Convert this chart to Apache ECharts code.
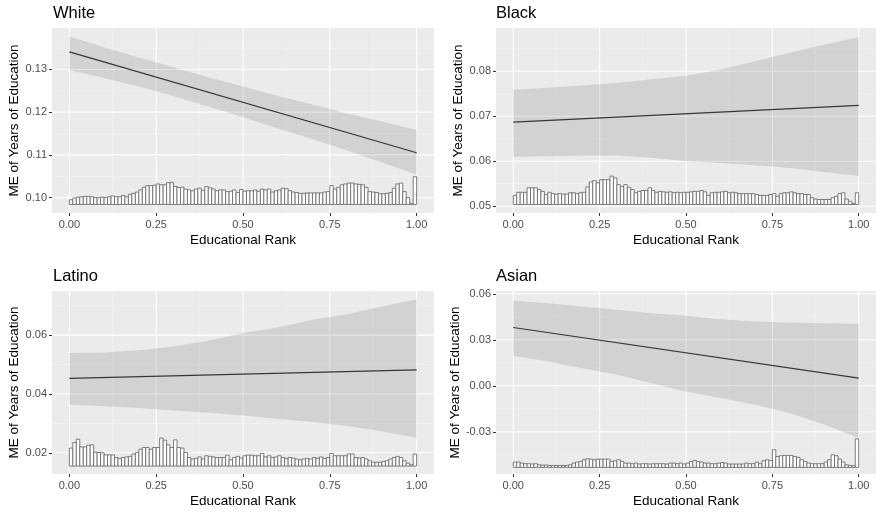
<!DOCTYPE html>
<html><head><meta charset="utf-8">
<script src="https://cdn.jsdelivr.net/npm/echarts@6.0.0/dist/echarts.min.js"></script>
<style>html,body{margin:0;padding:0;background:#fff}#c{width:876px;height:512px}</style>
</head><body><div id="c"></div>
<script>
// ---------- data ----------
const panelTitles = ['White', 'Black', 'Latino', 'Asian'];
const xTitle = 'Educational Rank';
const yTitle = 'ME of Years of Education';
const rankTicks = [0, 0.25, 0.5, 0.75, 1];
const rankMinor = [0.125, 0.375, 0.625, 0.875];
const rankRange = [-0.05, 1.05];
const ribbonX = [0, 0.1, 0.2, 0.3, 0.4, 0.5, 0.6, 0.7, 0.8, 0.9, 1];
const lineX = [0, 1];
const binWidth = 0.01;

// White
const whiteLine = [0.1341, 0.1105];
const whiteUpper = [0.1377, 0.1352, 0.1328, 0.1305, 0.1282, 0.1260, 0.1238, 0.1218, 0.1197, 0.1178, 0.1158];
const whiteLower = [0.1298, 0.1280, 0.1260, 0.1238, 0.1213, 0.1188, 0.1162, 0.1137, 0.1110, 0.1082, 0.1054];
const whiteHistBase = 0.0984;
const whiteHist = [
 0.0995,0.0999,0.1001,0.1002,0.1003,0.1003,0.1002,0.1000,0.1000,0.1001,
 0.1000,0.1002,0.1004,0.1002,0.1002,0.1005,0.1002,0.1008,0.1010,0.1013,
 0.1018,0.1024,0.1028,0.1028,0.1029,0.1032,0.1030,0.1030,0.1035,0.1036,
 0.1026,0.1024,0.1024,0.1020,0.1018,0.1016,0.1020,0.1022,0.1017,0.1026,
 0.1023,0.1020,0.1016,0.1018,0.1018,0.1014,0.1015,0.1018,0.1012,0.1019,
 0.1015,0.1016,0.1016,0.1018,0.1015,0.1020,0.1018,0.1020,0.1013,0.1016,
 0.1018,0.1022,0.1021,0.1016,0.1013,0.1012,0.1010,0.1010,0.1011,0.1011,
 0.1011,0.1011,0.1011,0.1013,0.1014,0.1028,0.1020,0.1024,0.1030,0.1032,
 0.1034,0.1034,0.1032,0.1031,0.1030,0.1024,0.1014,0.1013,0.1012,0.1009,
 0.1009,0.1010,0.1012,0.1022,0.1032,0.1034,0.1014,0.1000,0.0987,0.1049];
const whiteYTicks = [0.10, 0.11, 0.12, 0.13];
const whiteYMinor = [0.105, 0.115, 0.125, 0.135];
const whiteYRange = [0.0964, 0.1397];

// Black
const blackLine = [0.0687, 0.0724];
const blackUpper = [0.0759, 0.0763, 0.0768, 0.0774, 0.0782, 0.0790, 0.0804, 0.0822, 0.0841, 0.0859, 0.0876];
const blackLower = [0.0610, 0.0611, 0.0613, 0.0613, 0.0608, 0.0600, 0.0596, 0.0591, 0.0585, 0.0576, 0.0567];
const blackHistBase = 0.0504;
const blackHist = [
 0.0524,0.0531,0.0531,0.0531,0.0541,0.0541,0.0541,0.0537,0.0533,0.0526,
 0.0531,0.0528,0.0527,0.0528,0.0527,0.0527,0.0530,0.0530,0.0528,0.0530,
 0.0531,0.0543,0.0554,0.0557,0.0552,0.0559,0.0559,0.0559,0.0567,0.0563,
 0.0548,0.0544,0.0548,0.0542,0.0537,0.0530,0.0533,0.0535,0.0535,0.0541,
 0.0535,0.0531,0.0533,0.0532,0.0531,0.0532,0.0530,0.0531,0.0530,0.0531,
 0.0531,0.0532,0.0533,0.0533,0.0535,0.0532,0.0524,0.0530,0.0531,0.0531,
 0.0532,0.0533,0.0530,0.0531,0.0530,0.0528,0.0528,0.0528,0.0528,0.0528,
 0.0526,0.0524,0.0524,0.0524,0.0526,0.0528,0.0522,0.0528,0.0530,0.0530,
 0.0532,0.0530,0.0528,0.0528,0.0526,0.0526,0.0519,0.0516,0.0515,0.0515,
 0.0515,0.0515,0.0519,0.0522,0.0528,0.0530,0.0516,0.0511,0.0506,0.0530];
const blackYTicks = [0.05, 0.06, 0.07, 0.08];
const blackYMinor = [0.055, 0.065, 0.075, 0.085];
const blackYRange = [0.0485, 0.0896];

// Latino
const latinoLine = [0.0453, 0.0482];
const latinoUpper = [0.0539, 0.0541, 0.0549, 0.0561, 0.0581, 0.0607, 0.0626, 0.0652, 0.0671, 0.0697, 0.0722];
const latinoLower = [0.0363, 0.0358, 0.0352, 0.0344, 0.0336, 0.0327, 0.0316, 0.0305, 0.0291, 0.0273, 0.0251];
const latinoHistBase = 0.0155;
const latinoHist = [
 0.0216,0.0235,0.0246,0.0220,0.0220,0.0226,0.0227,0.0202,0.0201,0.0200,
 0.0193,0.0193,0.0193,0.0184,0.0181,0.0184,0.0186,0.0188,0.0196,0.0201,
 0.0212,0.0218,0.0218,0.0212,0.0218,0.0218,0.0250,0.0243,0.0227,0.0218,
 0.0244,0.0218,0.0216,0.0201,0.0184,0.0179,0.0181,0.0186,0.0179,0.0190,
 0.0188,0.0186,0.0184,0.0184,0.0184,0.0192,0.0176,0.0184,0.0188,0.0182,
 0.0190,0.0192,0.0192,0.0190,0.0190,0.0198,0.0186,0.0190,0.0184,0.0186,
 0.0190,0.0184,0.0181,0.0184,0.0182,0.0179,0.0176,0.0179,0.0181,0.0179,
 0.0184,0.0181,0.0186,0.0181,0.0184,0.0198,0.0190,0.0190,0.0190,0.0190,
 0.0196,0.0196,0.0184,0.0182,0.0184,0.0179,0.0173,0.0168,0.0168,0.0168,
 0.0171,0.0173,0.0179,0.0184,0.0188,0.0184,0.0173,0.0165,0.0159,0.0196];
const latinoYTicks = [0.02, 0.04, 0.06];
const latinoYMinor = [0.03, 0.05, 0.07];
const latinoYRange = [0.0128, 0.0750];

// Asian
const asianLine = [0.0380, 0.0050];
const asianUpper = [0.0556, 0.0538, 0.0517, 0.0495, 0.0473, 0.0456, 0.0434, 0.0419, 0.0413, 0.0408, 0.0404];
const asianLower = [0.0196, 0.0159, 0.0115, 0.0072, 0.0017, -0.0037, -0.0080, -0.0123, -0.0178, -0.0253, -0.0341];
const asianHistBase = -0.0532;
const asianHist = [
 -0.0497,-0.0497,-0.0504,-0.0508,-0.0508,-0.0510,-0.0508,-0.0515,-0.0517,-0.0517,
 -0.0519,-0.0519,-0.0519,-0.0519,-0.0519,-0.0519,-0.0515,-0.0504,-0.0497,-0.0493,
 -0.0482,-0.0476,-0.0478,-0.0482,-0.0478,-0.0478,-0.0478,-0.0478,-0.0493,-0.0489,
 -0.0482,-0.0493,-0.0504,-0.0504,-0.0508,-0.0504,-0.0510,-0.0508,-0.0508,-0.0510,
 -0.0508,-0.0508,-0.0508,-0.0508,-0.0510,-0.0504,-0.0504,-0.0508,-0.0504,-0.0510,
 -0.0504,-0.0493,-0.0487,-0.0493,-0.0497,-0.0504,-0.0504,-0.0508,-0.0508,-0.0504,
 -0.0500,-0.0504,-0.0510,-0.0510,-0.0510,-0.0510,-0.0510,-0.0504,-0.0508,-0.0508,
 -0.0497,-0.0508,-0.0489,-0.0482,-0.0487,-0.0417,-0.0461,-0.0456,-0.0454,-0.0454,
 -0.0454,-0.0461,-0.0467,-0.0482,-0.0493,-0.0504,-0.0508,-0.0508,-0.0508,-0.0508,
 -0.0497,-0.0482,-0.0450,-0.0456,-0.0478,-0.0497,-0.0515,-0.0519,-0.0521,-0.0346];
const asianYTicks = [-0.03, 0.00, 0.03, 0.06];
const asianYMinor = [-0.045, -0.015, 0.015, 0.045];
const asianYRange = [-0.0575, 0.0618];

// ---------- build ----------
const panels = [
  {line: whiteLine, upper: whiteUpper, lower: whiteLower, base: whiteHistBase, hist: whiteHist, yTicks: whiteYTicks, yMinor: whiteYMinor, yRange: whiteYRange},
  {line: blackLine, upper: blackUpper, lower: blackLower, base: blackHistBase, hist: blackHist, yTicks: blackYTicks, yMinor: blackYMinor, yRange: blackYRange},
  {line: latinoLine, upper: latinoUpper, lower: latinoLower, base: latinoHistBase, hist: latinoHist, yTicks: latinoYTicks, yMinor: latinoYMinor, yRange: latinoYRange},
  {line: asianLine, upper: asianUpper, lower: asianLower, base: asianHistBase, hist: asianHist, yTicks: asianYTicks, yMinor: asianYMinor, yRange: asianYRange}
];
const layout = [
  {left: 52, top: 28, width: 382, height: 185, tx: 53, ty: 5},
  {left: 496, top: 28, width: 382, height: 185, tx: 496, ty: 5},
  {left: 52, top: 291, width: 382, height: 183, tx: 53, ty: 268},
  {left: 496, top: 291, width: 382, height: 183, tx: 496, ty: 268}
];
const FONT = '"Liberation Sans", Arial, Helvetica, sans-serif';
const grid = [], xAxis = [], yAxis = [], series = [], title = [];

panels.forEach((p, k) => {
  const L = layout[k];
  grid.push({left: L.left, top: L.top, width: L.width, height: L.height, show: true,
    backgroundColor: '#EBEBEB', borderWidth: 0, containLabel: false});
  title.push({text: panelTitles[k], left: L.tx, top: L.ty, padding: 0,
    textStyle: {fontFamily: FONT, fontSize: 16.5, fontWeight: 'normal', color: '#000'}});
  xAxis.push({type: 'value', gridIndex: k, min: rankRange[0], max: rankRange[1],
    name: xTitle, nameLocation: 'middle', nameGap: 20.5,
    nameTextStyle: {fontFamily: FONT, fontSize: 13.5, color: '#000'},
    axisLine: {show: false, onZero: false}, splitLine: {show: false},
    axisTick: {show: true, length: 3, lineStyle: {color: '#333', width: 1}, customValues: rankTicks},
    axisLabel: {show: true, margin: 6, fontFamily: FONT, fontSize: 11, color: '#4D4D4D',
      customValues: rankTicks, formatter: v => Number(v).toFixed(2)}});
  yAxis.push({type: 'value', gridIndex: k, min: p.yRange[0], max: p.yRange[1],
    name: yTitle, nameLocation: 'middle', nameGap: 29, nameRotate: 90,
    nameTextStyle: {fontFamily: FONT, fontSize: 13.5, color: '#000'},
    axisLine: {show: false, onZero: false}, splitLine: {show: false},
    axisTick: {show: true, length: 3, lineStyle: {color: '#333', width: 1}, customValues: p.yTicks},
    axisLabel: {show: true, margin: 5, fontFamily: FONT, fontSize: 11, color: '#4D4D4D',
      customValues: p.yTicks, formatter: v => Number(v).toFixed(2)}});

  // grid lines (kind: 0 y-major, 1 y-minor, 2 x-major, 3 x-minor)
  const gl = [];
  p.yMinor.forEach(v => gl.push([v, 1]));
  rankMinor.forEach(v => gl.push([v, 3]));
  p.yTicks.forEach(v => gl.push([v, 0]));
  rankTicks.forEach(v => gl.push([v, 2]));
  series.push({type: 'custom', xAxisIndex: k, yAxisIndex: k, z: 1, silent: true,
    data: gl.map(d => ({value: d})),
    encode: {x: -1, y: -1},
    renderItem: (params, api) => {
      const v = api.value(0), kind = api.value(1);
      let a, b;
      if (kind < 2) { a = api.coord([rankRange[0], v]); b = api.coord([rankRange[1], v]); }
      else { a = api.coord([v, p.yRange[0]]); b = api.coord([v, p.yRange[1]]); }
      const minor = kind % 2 === 1;
      return {type: 'line', shape: {x1: a[0], y1: a[1], x2: b[0], y2: b[1]},
        style: {stroke: minor ? '#F4F4F4' : '#FFFFFF', lineWidth: minor ? 0.6 : 1.1}};
    }});

  // ribbon
  series.push({type: 'custom', xAxisIndex: k, yAxisIndex: k, z: 2, silent: true,
    data: [[ribbonX[0], p.upper[0]]],
    renderItem: (params, api) => {
      const pts = [];
      ribbonX.forEach((x, i) => pts.push(api.coord([x, p.upper[i]])));
      for (let i = ribbonX.length - 1; i >= 0; i--) pts.push(api.coord([ribbonX[i], p.lower[i]]));
      return {type: 'polygon', shape: {points: pts}, style: {fill: 'rgba(0,0,0,0.105)'}};
    }});

  // histogram
  series.push({type: 'custom', xAxisIndex: k, yAxisIndex: k, z: 3, silent: true,
    data: p.hist.map((h, i) => [i * binWidth, (i + 1) * binWidth, h, p.base]),
    encode: {x: [0, 1], y: 2},
    renderItem: (params, api) => {
      const a = api.coord([api.value(0), api.value(3)]);
      const b = api.coord([api.value(1), api.value(2)]);
      return {type: 'rect', shape: {x: a[0], y: b[1], width: b[0] - a[0], height: a[1] - b[1]},
        style: {fill: '#FFFFFF', stroke: '#6E6E6E', lineWidth: 0.9}};
    }});

  // marginal-effect line
  series.push({type: 'line', xAxisIndex: k, yAxisIndex: k, z: 4, silent: true,
    data: lineX.map((x, i) => [x, p.line[i]]), showSymbol: false, symbol: 'none',
    lineStyle: {color: '#363636', width: 1.2}});
});

const chart = echarts.init(document.getElementById('c'), null, {renderer: 'canvas'});
chart.setOption({animation: false, backgroundColor: '#FFFFFF', title, grid, xAxis, yAxis, series});
</script></body></html>
